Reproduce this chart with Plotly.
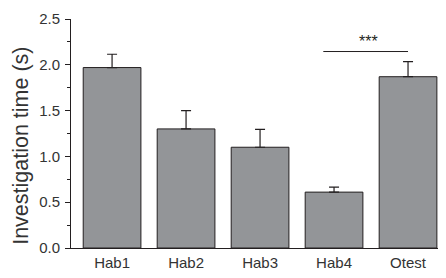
import plotly.graph_objects as go

categories = ["Hab1", "Hab2", "Hab3", "Hab4", "Otest"]
values = [1.97, 1.30, 1.10, 0.61, 1.87]
errors = [0.145, 0.20, 0.195, 0.055, 0.165]
yticks = [0.0, 0.5, 1.0, 1.5, 2.0, 2.5]
sig_from, sig_to, sig_level, sig_label = 2.855, 4.0, 2.145, "***"
sig_label_x = 3.47
y_title = "Investigation time (s)"

x_pos = list(range(len(categories)))

fig = go.Figure()
fig.add_trace(go.Bar(
    x=x_pos, y=values, width=0.78,
    marker=dict(color="#939598", line=dict(color="#231f20", width=1)),
    error_y=dict(type="data", array=errors, arrayminus=[0]*len(errors), symmetric=False,
                 color="#231f20", thickness=1.2, width=5),
    showlegend=False,
))

# significance line
fig.add_trace(go.Scatter(x=[sig_from, sig_to], y=[sig_level, sig_level], mode="lines",
                         line=dict(color="#231f20", width=1), showlegend=False, hoverinfo="skip"))
fig.add_annotation(x=sig_label_x, y=sig_level, text=sig_label, showarrow=False,
                   yanchor="bottom", yshift=0, font=dict(size=16, color="#231f20", family="Liberation Sans"))

fig.add_annotation(xref="paper", yref="paper", x=-0.137, y=0.445, text=y_title, textangle=-90,
                   showarrow=False, xanchor="center", yanchor="middle",
                   font=dict(size=21.5, color="#333333", family="Liberation Sans"))

fig.update_layout(
    width=446, height=278,
    margin=dict(l=71, r=8, t=19, b=30),
    plot_bgcolor="white", paper_bgcolor="white",
    font=dict(family="Liberation Sans, Arial, sans-serif", size=15, color="#333333"),
)
fig.update_xaxes(
    range=[-0.555, 4.405], tickvals=x_pos, ticktext=categories,
    showline=True, linecolor="#231f20", linewidth=1, ticks="", showgrid=False, zeroline=False,
    tickfont=dict(size=15), ticklabelstandoff=1,
)
fig.update_yaxes(
    range=[0, 2.5], tickvals=yticks, ticktext=[f"{v:.1f}" for v in yticks],
    showline=True, linecolor="#231f20", linewidth=1, ticks="outside", ticklen=5, tickcolor="#231f20",
    minor=dict(ticks="outside", ticklen=3, dtick=0.25, tickcolor="#231f20", showgrid=False),
    showgrid=False, zeroline=False, tickfont=dict(size=15), ticklabelstandoff=2,
)

fig.write_html("out.html", config={"displayModeBar": False},
               post_script="document.body.style.margin='0';")
